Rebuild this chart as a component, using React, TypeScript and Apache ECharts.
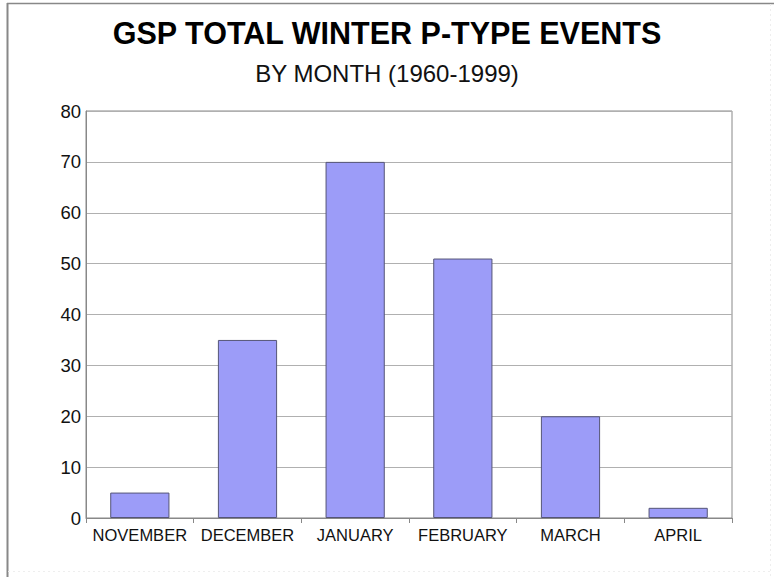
import React, { useEffect, useRef } from "react";
import * as echarts from "echarts";

const categories = ["NOVEMBER", "DECEMBER", "JANUARY", "FEBRUARY", "MARCH", "APRIL"];
const events = [5, 35, 70, 51, 20, 2];
const titleText = "GSP TOTAL WINTER P-TYPE EVENTS";
const subtitleText = "BY MONTH (1960-1999)";

export default function App() {
  const ref = useRef<HTMLDivElement>(null);
  useEffect(() => {
    if (!ref.current) return;
    const chart = echarts.init(ref.current, undefined, { renderer: "svg" });
    chart.setOption({
      animation: false,
      backgroundColor: "#ffffff",
      title: [
        {
          text: titleText,
          left: "center",
          top: 12,
          textStyle: { fontFamily: "Liberation Sans", fontWeight: "bold", fontSize: 30.5, color: "#000" },
        },
        {
          text: subtitleText,
          left: "center",
          top: 56,
          textStyle: { fontFamily: "Liberation Sans", fontWeight: "normal", fontSize: 24, color: "#111" },
        },
      ],
      graphic: [
        { type: "line", shape: { x1: 7.5, y1: 3, x2: 7.5, y2: 577 }, style: { stroke: "#888", lineWidth: 2 } },
        { type: "line", shape: { x1: 7, y1: 3.5, x2: 774, y2: 3.5 }, style: { stroke: "#888", lineWidth: 1.5 } },
        { type: "line", shape: { x1: 770.5, y1: 4, x2: 770.5, y2: 577 }, style: { stroke: "#eee", lineWidth: 1, lineDash: [2, 3] } },
        { type: "line", shape: { x1: 8, y1: 571.5, x2: 770, y2: 571.5 }, style: { stroke: "#eee", lineWidth: 1, lineDash: [2, 3] } },
      ],
      grid: { left: 86, right: 42, top: 111, bottom: 59, show: true, borderColor: "#888", borderWidth: 1 },
      xAxis: {
        type: "category",
        data: categories,
        boundaryGap: true,
        axisLine: { lineStyle: { color: "#888" } },
        axisTick: { show: true, length: 5, lineStyle: { color: "#888" } },
        axisLabel: { fontFamily: "Liberation Sans", fontSize: 16.5, color: "#111", margin: 8, interval: 0 },
      },
      yAxis: {
        type: "value",
        min: 0,
        max: 80,
        interval: 10,
        axisLine: { show: true, lineStyle: { color: "#888" } },
        axisTick: { show: false },
        axisLabel: { fontFamily: "Liberation Sans", fontSize: 18.5, color: "#111", margin: 5 },
        splitLine: { lineStyle: { color: "#b0b0b0" } },
      },
      series: [
        {
          type: "bar",
          data: events,
          barWidth: "55%",
          itemStyle: { color: "#9c9cf8", borderColor: "#555577", borderWidth: 1 },
        },
      ],
    });
    return () => chart.dispose();
  }, []);
  return <div ref={ref} style={{ position: "fixed", left: 0, top: 0, width: 774, height: 577 }} />;
}
